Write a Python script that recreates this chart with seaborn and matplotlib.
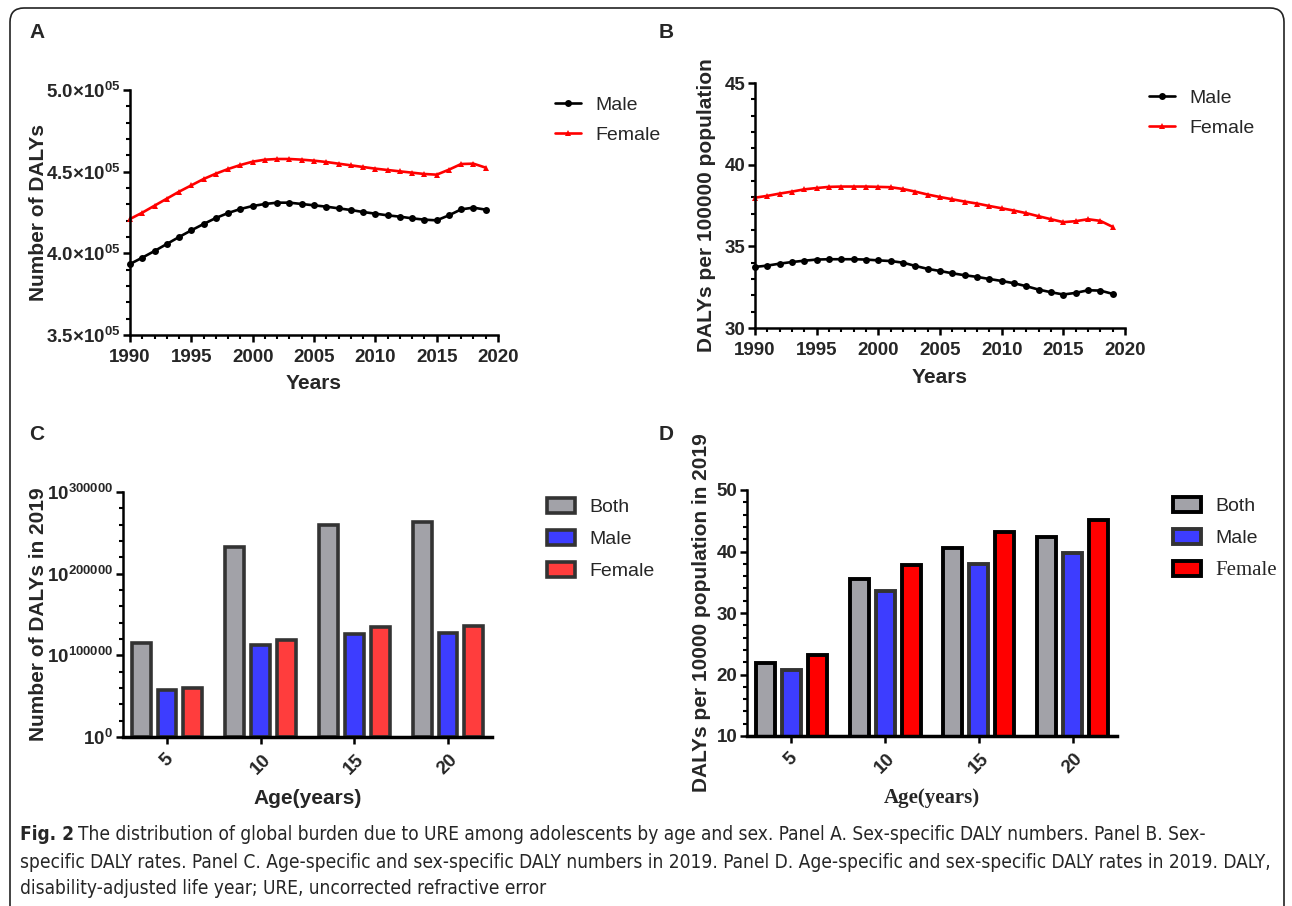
import numpy as np
import pandas as pd
import matplotlib
matplotlib.use('Agg')
import matplotlib.pyplot as plt
from matplotlib import font_manager
from matplotlib.patches import Patch, FancyBboxPatch
from matplotlib.lines import Line2D
from matplotlib.ticker import MultipleLocator
from matplotlib.transforms import IdentityTransform
import seaborn as sns

# panel A / B: yearly series
years = list(range(1990, 2020))
num_male = [393469, 397347, 401429, 405714, 410000, 414082, 417959, 421633, 424694, 427143,
            428980, 430204, 431020, 431020, 430204, 429388, 428571, 427551, 426531, 425306,
            424286, 423265, 422449, 421429, 420612, 420204, 423265, 426939, 427959, 426735]
num_female = [421020, 424898, 429184, 433469, 437755, 441633, 445510, 448776, 451633, 454082,
              456122, 457347, 457755, 457755, 457347, 456735, 455918, 454898, 453878, 452857,
              451837, 451020, 450204, 449388, 448571, 448163, 451224, 454694, 454898, 452449]
rate_male = [33.74, 33.82, 33.94, 34.04, 34.12, 34.19, 34.21, 34.21, 34.21, 34.19,
             34.14, 34.10, 34.00, 33.80, 33.62, 33.49, 33.35, 33.23, 33.13, 33.00,
             32.88, 32.74, 32.56, 32.35, 32.19, 32.05, 32.15, 32.31, 32.29, 32.09]
rate_female = [37.98, 38.09, 38.23, 38.35, 38.49, 38.57, 38.64, 38.66, 38.66, 38.66,
               38.64, 38.62, 38.51, 38.35, 38.17, 38.02, 37.88, 37.74, 37.62, 37.47,
               37.33, 37.19, 37.03, 36.84, 36.66, 36.48, 36.54, 36.66, 36.56, 36.19]

# panel C / D: 2019 by age group
ages = ['5', '10', '15', '20']
groups = ['Both', 'Male', 'Female']
num2019_both = [115500, 232700, 260000, 263300]
num2019_male = [57100, 113000, 125700, 127300]
num2019_female = [59600, 119200, 134300, 135900]
rate2019_both = [21.9, 35.6, 40.5, 42.4]
rate2019_male = [20.7, 33.6, 38.0, 39.8]
rate2019_female = [23.1, 37.8, 43.2, 45.2]

a_yticks = [350000, 400000, 450000, 500000]
a_ylabels = ['3.5×10$^{05}$', '4.0×10$^{05}$', '4.5×10$^{05}$', '5.0×10$^{05}$']
c_yticks = [0, 100000, 200000, 300000]
c_ylabels = ['10$^{0}$', '10$^{100000}$', '10$^{200000}$', '10$^{300000}$']
year_ticks = [1990, 1995, 2000, 2005, 2010, 2015, 2020]

caption_lines = [
    'The distribution of global burden due to URE among adolescents by age and sex. Panel A. Sex-specific DALY numbers. Panel B. Sex-',
    'specific DALY rates. Panel C. Age-specific and sex-specific DALY numbers in 2019. Panel D. Age-specific and sex-specific DALY rates in 2019. DALY,',
    'disability-adjusted life year; URE, uncorrected refractive error',
]

sns.set_style('ticks')
plt.rcParams['font.family'] = ['Liberation Sans', 'DejaVu Sans']
plt.rcParams['mathtext.default'] = 'regular'

W, H = 1292, 906
fig = plt.figure(figsize=(W / 100, H / 100), dpi=100)


def px_axes(l, t, r, b):
    return fig.add_axes([l / W, 1 - b / H, (r - l) / W, (b - t) / H])


def style(ax):
    sns.despine(ax=ax)
    for s in ['left', 'bottom']:
        ax.spines[s].set_linewidth(1.8)
        ax.spines[s].set_color('black')
    ax.tick_params(which='major', length=5, width=1.8, labelsize=13.5, color='black', pad=2)
    ax.tick_params(which='minor', length=3, width=1.5, color='black')
    ax.tick_params(axis='x', which='major', pad=5)


tick_font = dict(fontweight='bold', fontsize=13.5)
label_font = dict(fontweight='bold', fontsize=15)
leg_font = dict(size=14)

# ---------- A ----------
axA = px_axes(130, 90, 498, 335)
sns.lineplot(x=years, y=num_male, color='black', marker='o', markersize=5, markeredgewidth=0,
             linewidth=1.9, clip_on=False, ax=axA)
sns.lineplot(x=years, y=num_female, color='#ff0000', marker='^', markersize=5, markeredgewidth=0,
             linewidth=1.9, clip_on=False, ax=axA)
axA.set_xlim(1990, 2020)
axA.set_ylim(350000, 500000)
axA.set_xticks(year_ticks, [str(y) for y in year_ticks], **tick_font)
axA.set_yticks(a_yticks, a_ylabels, **tick_font)
axA.xaxis.set_minor_locator(MultipleLocator(1))
axA.yaxis.set_minor_locator(MultipleLocator(10000))
style(axA)
axA.set_xlabel('Years', **label_font, va='center')
axA.set_ylabel('Number of DALYs', **label_font, va='center')
axA.xaxis.set_label_coords(0.5, -0.196)
axA.yaxis.set_label_coords(-0.248, 0.5)

# ---------- B ----------
axB = px_axes(755, 83, 1125, 328)
sns.lineplot(x=years, y=rate_male, color='black', marker='o', markersize=5, markeredgewidth=0,
             linewidth=1.9, clip_on=False, ax=axB)
sns.lineplot(x=years, y=rate_female, color='#ff0000', marker='^', markersize=5, markeredgewidth=0,
             linewidth=1.9, clip_on=False, ax=axB)
axB.set_xlim(1990, 2020)
axB.set_ylim(30, 45)
axB.set_xticks(year_ticks, [str(y) for y in year_ticks], **tick_font)
axB.set_yticks([30, 35, 40, 45], ['30', '35', '40', '45'], **tick_font)
axB.xaxis.set_minor_locator(MultipleLocator(1))
axB.yaxis.set_minor_locator(MultipleLocator(1))
style(axB)
axB.set_xlabel('Years', **label_font, va='center')
axB.set_ylabel('DALYs per 100000 population', **label_font, va='center')
axB.xaxis.set_label_coords(0.5, -0.2)
axB.yaxis.set_label_coords(-0.13, 0.5)

line_handles = [
    Line2D([], [], color='black', marker='o', markersize=5, markeredgewidth=0, linewidth=1.9),
    Line2D([], [], color='#ff0000', marker='^', markersize=5, markeredgewidth=0, linewidth=1.9),
]
for ax, (lx, ly) in [(axA, (555, 96)), (axB, (1149, 89))]:
    ax.legend(line_handles, ['Male', 'Female'], loc='upper left', bbox_to_anchor=(lx / W, 1 - ly / H),
              bbox_transform=fig.transFigure, frameon=False, borderpad=0, borderaxespad=0,
              handlelength=1.34, handletextpad=0.72, labelspacing=0.65, prop=leg_font)

# ---------- C ----------
dfC = pd.DataFrame({
    'age': ages * 3,
    'group': [g for g in groups for _ in ages],
    'value': num2019_both + num2019_male + num2019_female,
})
colC = ['#a2a2a8', '#3d3dff', '#ff3d3d']
axC = px_axes(123, 492, 492, 737)
sns.barplot(data=dfC, x='age', y='value', hue='group', order=ages, hue_order=groups,
            palette=colC, saturation=1, width=0.83, gap=0.27, errorbar=None,
            edgecolor='#333333', linewidth=2.6, legend=False, ax=axC)
axC.set_xlim(-0.47, 3.47)
axC.set_ylim(0, 300000)
axC.set_yticks(c_yticks, c_ylabels, **tick_font)
axC.set_xticks(range(len(ages)), ages, rotation=45, **tick_font)
axC.yaxis.set_minor_locator(MultipleLocator(20000))
style(axC)
axC.spines['bottom'].set_linewidth(2.5)
axC.set_xlabel('Age(years)', **label_font, va='center')
axC.set_ylabel('Number of DALYs in 2019', **label_font, va='center')
axC.xaxis.set_label_coords(0.5, -0.249)
axC.yaxis.set_label_coords(-0.23, 0.5)
handlesC = [Patch(facecolor=c, edgecolor='#333333', linewidth=2.6) for c in colC]
axC.legend(handlesC, groups, loc='upper left', bbox_to_anchor=(547 / W, 1 - 498 / H),
           bbox_transform=fig.transFigure, frameon=False, borderpad=0, borderaxespad=0,
           handlelength=1.44, handleheight=0.82, handletextpad=0.72, labelspacing=0.7, prop=leg_font)

# ---------- D ----------
dfD = pd.DataFrame({
    'age': ages * 3,
    'group': [g for g in groups for _ in ages],
    'value': rate2019_both + rate2019_male + rate2019_female,
})
colD = ['#a2a2a8', '#3d3dff', '#ff0000']
edgeD = ['black', '#333333', 'black']
axD = px_axes(747, 490, 1117, 736)
sns.barplot(data=dfD, x='age', y='value', hue='group', order=ages, hue_order=groups,
            palette=colD, saturation=1, width=0.83, gap=0.27, errorbar=None,
            edgecolor='black', linewidth=2.8, legend=False, ax=axD)
for cont, ec in zip(axD.containers, edgeD):
    for bar in cont:
        bar.set_edgecolor(ec)
axD.set_xlim(-0.47, 3.47)
axD.set_ylim(10, 50)
axD.set_yticks([10, 20, 30, 40, 50], ['10', '20', '30', '40', '50'], **tick_font)
axD.set_xticks(range(len(ages)), ages, rotation=45, **tick_font)
axD.yaxis.set_minor_locator(MultipleLocator(2))
style(axD)
axD.spines['bottom'].set_linewidth(2.5)
axD.set_xlabel('Age(years)', fontweight='bold', fontsize=15, family=['Liberation Serif'], va='center')
axD.set_ylabel('DALYs per 10000 population in 2019', **label_font, va='center')
axD.xaxis.set_label_coords(0.5, -0.252)
axD.yaxis.set_label_coords(-0.124, 0.5)
handlesD = [Patch(facecolor=c, edgecolor=e, linewidth=2.8) for c, e in zip(colD, edgeD)]
legD = axD.legend(handlesD, groups, loc='upper left', bbox_to_anchor=(1173 / W, 1 - 497 / H),
                  bbox_transform=fig.transFigure, frameon=False, borderpad=0, borderaxespad=0,
                  handlelength=1.44, handleheight=0.82, handletextpad=0.72, labelspacing=0.7,
                  prop=leg_font)
legD.get_texts()[2].set_fontfamily(['Liberation Serif'])
legD.get_texts()[2].set_fontsize(15)

# panel letters
for letter, (x, y) in zip('ABCD', [(37, 33), (666, 33), (37, 435), (666, 435)]):
    fig.text(x / W, 1 - y / H, letter, fontsize=15, fontweight='bold', ha='center', va='center')

# frame
frame = FancyBboxPatch((10, -40), 1274, H - 8 + 40, boxstyle='round,pad=0,rounding_size=14',
                       transform=IdentityTransform(), facecolor='none', edgecolor='#222222', linewidth=1.2)
fig.add_artist(frame)

# caption: condensed face if one is installed
installed = {(f.name, f.stretch) for f in font_manager.fontManager.ttflist}
cap_kw = dict(family=['Liberation Sans', 'DejaVu Sans'])
if any(n == 'Liberation Sans Narrow' for n, _ in installed):
    cap_kw = dict(family=['Liberation Sans Narrow', 'DejaVu Sans'])
elif ('DejaVu Sans', 'condensed') in installed or ('DejaVu Sans', 'semi-condensed') in installed:
    cap_kw = dict(family=['DejaVu Sans'], stretch='condensed')

cap_size = 14
probe = fig.text(0, 0, caption_lines[1], fontsize=cap_size, **cap_kw)
fig.canvas.draw()
w = probe.get_window_extent().width
probe.remove()
cap_size = cap_size * 1258 / w
fig_lbl = fig.text(20 / W, 1 - 835 / H, 'Fig. 2', fontsize=cap_size, fontweight='bold', va='center', **cap_kw)
fig.canvas.draw()
x_after = fig_lbl.get_window_extent().x1 + cap_size * 0.3
fig.text(x_after / W, 1 - 835 / H, caption_lines[0], fontsize=cap_size, va='center', **cap_kw)
fig.text(20 / W, 1 - 862 / H, caption_lines[1], fontsize=cap_size, va='center', **cap_kw)
fig.text(20 / W, 1 - 889 / H, caption_lines[2], fontsize=cap_size, va='center', **cap_kw)

fig.savefig('out.png', dpi=100)
